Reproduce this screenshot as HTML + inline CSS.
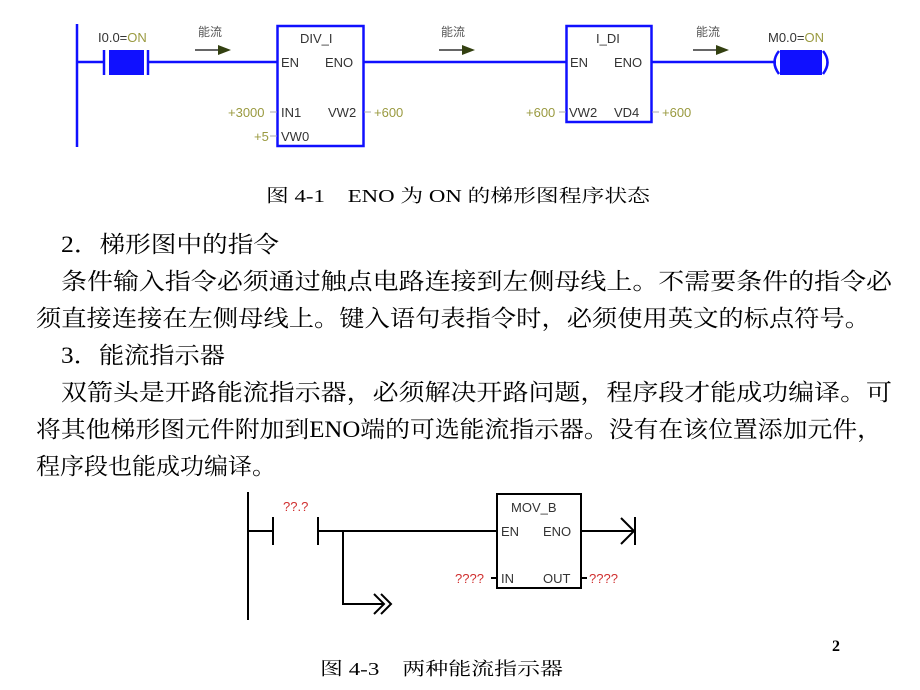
<!DOCTYPE html>
<html><head><meta charset="utf-8"><style>
html,body{margin:0;padding:0;background:#fff;}
svg{display:block;}
.s{font-family:"Liberation Sans","Noto Sans CJK SC",sans-serif;font-size:13px;fill:#333;}
.g{fill:#9a9a40;}
.r{fill:#d03030;}
.t{font-family:"Liberation Serif","Noto Serif CJK SC",serif;font-size:23px;fill:#000;}
.c{font-family:"Liberation Serif","Noto Serif CJK SC",serif;font-size:18px;fill:#000;}
</style></head><body>
<svg width="920" height="690" viewBox="0 0 920 690" xmlns="http://www.w3.org/2000/svg">
<!-- Top ladder -->
<g stroke="#1010ff" stroke-width="2.5" fill="none">
<line x1="77" y1="24" x2="77" y2="147"/>
<line x1="77" y1="62" x2="104" y2="62"/>
<line x1="104" y1="50" x2="104" y2="75"/>
<line x1="148" y1="50" x2="148" y2="75"/>
<line x1="148" y1="62" x2="277" y2="62"/>
<rect x="277.5" y="26" width="86" height="120"/>
<line x1="364" y1="62" x2="566" y2="62"/>
<rect x="566.5" y="26" width="85" height="96"/>
<line x1="652" y1="62" x2="776" y2="62"/>
<path d="M779 51 Q770 62 779 74"/>
<path d="M823 51 Q832 62 823 74"/>
</g>
<rect x="109" y="50" width="35" height="25" fill="#1010ff"/>
<rect x="780" y="50" width="42" height="25" fill="#1010ff"/>
<text class="s" x="98" y="42">I0.0=<tspan class="g">ON</tspan></text>
<text class="s" x="768" y="42">M0.0=<tspan class="g">ON</tspan></text>
<g font-family="'Noto Sans CJK SC',sans-serif" font-size="12" fill="#555">
<text x="198" y="36">能流</text><text x="441" y="36">能流</text><text x="696" y="36">能流</text>
</g>
<g stroke="#333" stroke-width="1.5"><line x1="195" y1="50" x2="220" y2="50"/><line x1="439" y1="50" x2="464" y2="50"/><line x1="693" y1="50" x2="718" y2="50"/></g>
<g fill="#334010"><path d="M218 45 L231 50 L218 55Z"/><path d="M462 45 L475 50 L462 55Z"/><path d="M716 45 L729 50 L716 55Z"/></g>
<text class="s" x="300" y="43">DIV_I</text>
<text class="s" x="281" y="67">EN</text><text class="s" x="325" y="67">ENO</text>
<text class="s" x="281" y="117">IN1</text><text class="s" x="328" y="117">VW2</text>
<text class="s" x="281" y="141">VW0</text>
<text class="s g" x="228" y="117">+3000</text><text class="s g" x="254" y="141">+5</text>
<text class="s g" x="374" y="117">+600</text>
<g stroke="#aaa" stroke-width="1"><line x1="270" y1="112" x2="277" y2="112"/><line x1="270" y1="136" x2="277" y2="136"/><line x1="364" y1="112" x2="371" y2="112"/><line x1="559" y1="112" x2="566" y2="112"/><line x1="652" y1="112" x2="659" y2="112"/></g>
<text class="s" x="596" y="43">I_DI</text>
<text class="s" x="570" y="67">EN</text><text class="s" x="614" y="67">ENO</text>
<text class="s" x="569" y="117">VW2</text><text class="s" x="614" y="117">VD4</text>
<text class="s g" x="526" y="117">+600</text><text class="s g" x="662" y="117">+600</text>
<text class="c" x="266" y="202" textLength="384" lengthAdjust="spacingAndGlyphs">图 4-1　ENO 为 ON 的梯形图程序状态</text>
<!-- Body text -->
<text class="t" x="61" y="252" textLength="218" lengthAdjust="spacingAndGlyphs">2．梯形图中的指令</text>
<text class="t" x="61" y="289" textLength="831" lengthAdjust="spacingAndGlyphs">条件输入指令必须通过触点电路连接到左侧母线上。不需要条件的指令必</text>
<text class="t" x="36" y="326" textLength="834" lengthAdjust="spacingAndGlyphs">须直接连接在左侧母线上。键入语句表指令时，必须使用英文的标点符号。</text>
<text class="t" x="61" y="363" textLength="164" lengthAdjust="spacingAndGlyphs">3．能流指示器</text>
<text class="t" x="61" y="400" textLength="831" lengthAdjust="spacingAndGlyphs">双箭头是开路能流指示器，必须解决开路问题，程序段才能成功编译。可</text>
<text class="t" x="36" y="437" textLength="846" lengthAdjust="spacingAndGlyphs">将其他梯形图元件附加到ENO端的可选能流指示器。没有在该位置添加元件，</text>
<text class="t" x="36" y="474" textLength="240" lengthAdjust="spacingAndGlyphs">程序段也能成功编译。</text>
<!-- Bottom ladder -->
<g stroke="#000" stroke-width="2" fill="none">
<line x1="248" y1="492" x2="248" y2="620"/>
<line x1="248" y1="531" x2="273" y2="531"/>
<line x1="273" y1="517" x2="273" y2="545"/>
<line x1="318" y1="517" x2="318" y2="545"/>
<line x1="318" y1="531" x2="497" y2="531"/>
<polyline points="343,531 343,604 384,604"/>
<polyline points="374,594 384,604 374,614"/>
<polyline points="381,594 391,604 381,614"/>
<rect x="497" y="494" width="84" height="94"/>
<line x1="581" y1="531" x2="634" y2="531"/>
<polyline points="621,518 634,531 621,544"/>
<line x1="635" y1="517" x2="635" y2="545"/>
<line x1="491" y1="578" x2="497" y2="578"/>
<line x1="581" y1="578" x2="587" y2="578"/>
</g>
<text class="s r" x="283" y="511">??.?</text>
<text class="s" x="511" y="512">MOV_B</text>
<text class="s" x="501" y="536">EN</text><text class="s" x="543" y="536">ENO</text>
<text class="s" x="501" y="583">IN</text><text class="s" x="543" y="583">OUT</text>
<text class="s r" x="455" y="583">????</text><text class="s r" x="589" y="583">????</text>
<text x="832" y="651" font-family="'Liberation Serif',serif" font-size="16" font-weight="bold">2</text>
<text class="c" x="320" y="675" textLength="243" lengthAdjust="spacingAndGlyphs">图 4-3　两种能流指示器</text>
</svg>
</body></html>
